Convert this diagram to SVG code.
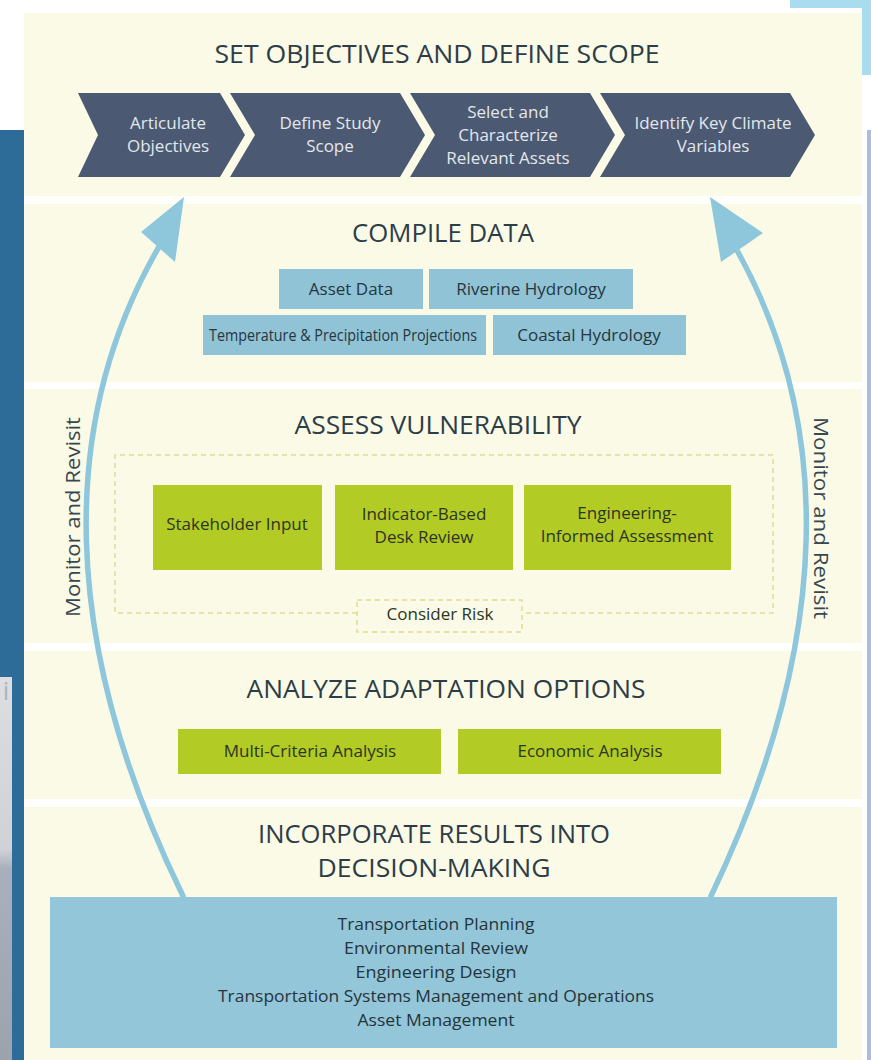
<svg xmlns="http://www.w3.org/2000/svg" width="871" height="1060" viewBox="0 0 871 1060">
  <defs>
    <style>
      .title { font-family: "Open Sans", "Liberation Sans", sans-serif; font-size: 26px; fill: #2d3d47; text-anchor: middle; }
      .chev { fill: #4b5a72; }
      .chevtxt { font-family: "Open Sans", "Liberation Sans", sans-serif; font-size: 17px; fill: #e3e7ec; text-anchor: middle; }
      .data { fill: #8fc3d5; }
      .datatxt { font-family: "Open Sans", "Liberation Sans", sans-serif; font-size: 17px; fill: #27363f; text-anchor: middle; }
      .green { fill: #b3cb25; }
      .greentxt { font-family: "Open Sans", "Liberation Sans", sans-serif; font-size: 17px; fill: #2c3524; text-anchor: middle; }
      .dash { fill: none; stroke: #e2dc98; stroke-width: 1.5; stroke-dasharray: 5 4; }
      .sep { fill: #ffffff; opacity: 0.9; }
      .arc { fill: none; stroke: #8ec7dc; stroke-width: 5.5; stroke-linecap: round; }
      .head { fill: #8ec7dc; }
      .side { font-family: "Open Sans", "Liberation Sans", sans-serif; font-size: 20px; fill: #37474f; text-anchor: middle; }
      .list { font-family: "Open Sans", "Liberation Sans", sans-serif; font-size: 17px; fill: #26343c; text-anchor: middle; }
    </style>
    <linearGradient id="shot" x1="0" y1="0" x2="0" y2="1">
      <stop offset="0" stop-color="#dcdee0"/>
      <stop offset="0.45" stop-color="#cfd2d6"/>
      <stop offset="0.5" stop-color="#a9b0bc"/>
      <stop offset="1" stop-color="#9da3ad"/>
    </linearGradient>
  </defs>

  <!-- page backdrop -->
  <rect x="0" y="0" width="871" height="1060" fill="#ffffff"/>
  <rect x="0" y="130" width="24" height="930" fill="#2d6b98"/>
  <rect x="0" y="677" width="12" height="383" fill="url(#shot)"/>
  <text x="6" y="700" font-family="Open Sans, sans-serif" font-size="26" fill="#a8b6c4" text-anchor="middle">i</text>
  <rect x="790" y="0" width="81" height="8" fill="#a9dcef"/>
  <rect x="862" y="0" width="9" height="75" fill="#a9dcef"/>
  <rect x="867" y="130" width="4" height="930" fill="#aebbe0"/>

  <!-- main panel -->
  <rect x="24" y="13" width="838" height="1047" fill="#fafae7"/>

  <!-- section dividers -->
  <rect class="sep" x="24" y="196" width="838" height="8"/>
  <rect class="sep" x="24" y="382" width="838" height="7"/>
  <rect class="sep" x="24" y="643" width="838" height="8"/>
  <rect class="sep" x="24" y="799" width="838" height="8"/>

  <!-- SET OBJECTIVES AND DEFINE SCOPE -->
  <g id="set-objectives">
    <text class="title" x="437" y="63" textLength="445" lengthAdjust="spacingAndGlyphs">SET OBJECTIVES AND DEFINE SCOPE</text>
    <g id="articulate-objectives">
      <polygon class="chev" points="78,93 220,93 245,135 220,177 78,177 98,135"/>
      <text class="chevtxt" x="168" y="129">Articulate</text>
      <text class="chevtxt" x="168" y="152">Objectives</text>
    </g>
    <g id="define-study-scope">
      <polygon class="chev" points="230,93 400,93 425,135 400,177 230,177 255,135"/>
      <text class="chevtxt" x="330" y="129">Define Study</text>
      <text class="chevtxt" x="330" y="152">Scope</text>
    </g>
    <g id="select-assets">
      <polygon class="chev" points="410,93 590,93 615,135 590,177 410,177 435,135"/>
      <text class="chevtxt" x="508" y="118">Select and</text>
      <text class="chevtxt" x="508" y="141">Characterize</text>
      <text class="chevtxt" x="508" y="164">Relevant Assets</text>
    </g>
    <g id="climate-variables">
      <polygon class="chev" points="600,93 790,93 815,135 790,177 600,177 625,135"/>
      <text class="chevtxt" x="713" y="129">Identify Key Climate</text>
      <text class="chevtxt" x="713" y="152">Variables</text>
    </g>
  </g>

  <!-- COMPILE DATA -->
  <g id="compile-data">
    <text class="title" x="443" y="242" textLength="182" lengthAdjust="spacingAndGlyphs">COMPILE DATA</text>
    <g id="asset-data">
      <rect class="data" x="279" y="269" width="144" height="40"/>
      <text class="datatxt" x="351" y="295">Asset Data</text>
    </g>
    <g id="riverine-hydrology">
      <rect class="data" x="429" y="269" width="204" height="40"/>
      <text class="datatxt" x="531" y="295">Riverine Hydrology</text>
    </g>
    <g id="temp-precip">
      <rect class="data" x="203" y="315" width="283" height="40"/>
      <text class="datatxt" x="343" y="341" font-size="15.5" textLength="268" lengthAdjust="spacingAndGlyphs">Temperature &amp; Precipitation Projections</text>
    </g>
    <g id="coastal-hydrology">
      <rect class="data" x="493" y="315" width="193" height="40"/>
      <text class="datatxt" x="589" y="341">Coastal Hydrology</text>
    </g>
  </g>

  <!-- ASSESS VULNERABILITY -->
  <g id="assess-vulnerability">
    <text class="title" x="438" y="434" textLength="287" lengthAdjust="spacingAndGlyphs">ASSESS VULNERABILITY</text>
    <path class="dash" d="M357,613 H115 V455 H773 V613 H522"/>
    <g id="stakeholder-input">
      <rect class="green" x="153" y="485" width="169" height="85"/>
      <text class="greentxt" x="237" y="530">Stakeholder Input</text>
    </g>
    <g id="indicator-review">
      <rect class="green" x="335" y="485" width="178" height="85"/>
      <text class="greentxt" x="424" y="520">Indicator-Based</text>
      <text class="greentxt" x="424" y="543">Desk Review</text>
    </g>
    <g id="engineering-assessment">
      <rect class="green" x="524" y="485" width="207" height="85"/>
      <text class="greentxt" x="627" y="519">Engineering-</text>
      <text class="greentxt" x="627" y="542">Informed Assessment</text>
    </g>
    <g id="consider-risk">
      <rect class="dash" x="357" y="600" width="165" height="32"/>
      <text class="greentxt" x="440" y="620" font-size="14">Consider Risk</text>
    </g>
  </g>

  <!-- ANALYZE ADAPTATION OPTIONS -->
  <g id="analyze-options">
    <text class="title" x="446" y="698" textLength="399" lengthAdjust="spacingAndGlyphs">ANALYZE ADAPTATION OPTIONS</text>
    <g id="multi-criteria">
      <rect class="green" x="178" y="729" width="263" height="45"/>
      <text class="greentxt" x="310" y="757">Multi-Criteria Analysis</text>
    </g>
    <g id="economic-analysis">
      <rect class="green" x="458" y="729" width="263" height="45"/>
      <text class="greentxt" x="590" y="757">Economic Analysis</text>
    </g>
  </g>

  <!-- INCORPORATE RESULTS INTO DECISION-MAKING -->
  <g id="incorporate-results">
    <text class="title" x="434" y="843" font-size="23" textLength="352" lengthAdjust="spacingAndGlyphs">INCORPORATE RESULTS INTO</text>
    <text class="title" x="434" y="877" font-size="23" textLength="233" lengthAdjust="spacingAndGlyphs" font-weight="500">DECISION-MAKING</text>
    <g id="decision-areas">
      <rect x="50" y="897" width="787" height="151" fill="#92c6d8"/>
      <text class="list" x="436" y="930" textLength="197" lengthAdjust="spacingAndGlyphs">Transportation Planning</text>
      <text class="list" x="436" y="954" textLength="184" lengthAdjust="spacingAndGlyphs">Environmental Review</text>
      <text class="list" x="436" y="978" textLength="161" lengthAdjust="spacingAndGlyphs">Engineering Design</text>
      <text class="list" x="436" y="1002" textLength="436" lengthAdjust="spacingAndGlyphs">Transportation Systems Management and Operations</text>
      <text class="list" x="436" y="1026" textLength="157" lengthAdjust="spacingAndGlyphs">Asset Management</text>
    </g>
  </g>

  <!-- Monitor and Revisit feedback loops -->
  <g id="connectors">
    <path class="arc" d="M183,896 C58,640 58,420 160,245"/>
    <polygon class="head" points="184,197 141,232 175,262"/>
    <path class="arc" d="M711,896 C834,640 834,420 734,245"/>
    <polygon class="head" points="710,197 763,233 721,262"/>
    <text class="side" transform="translate(80,517) rotate(-90)" textLength="200" lengthAdjust="spacingAndGlyphs">Monitor and Revisit</text>
    <text class="side" transform="translate(814,518) rotate(90)" textLength="202" lengthAdjust="spacingAndGlyphs">Monitor and Revisit</text>
  </g>
</svg>
